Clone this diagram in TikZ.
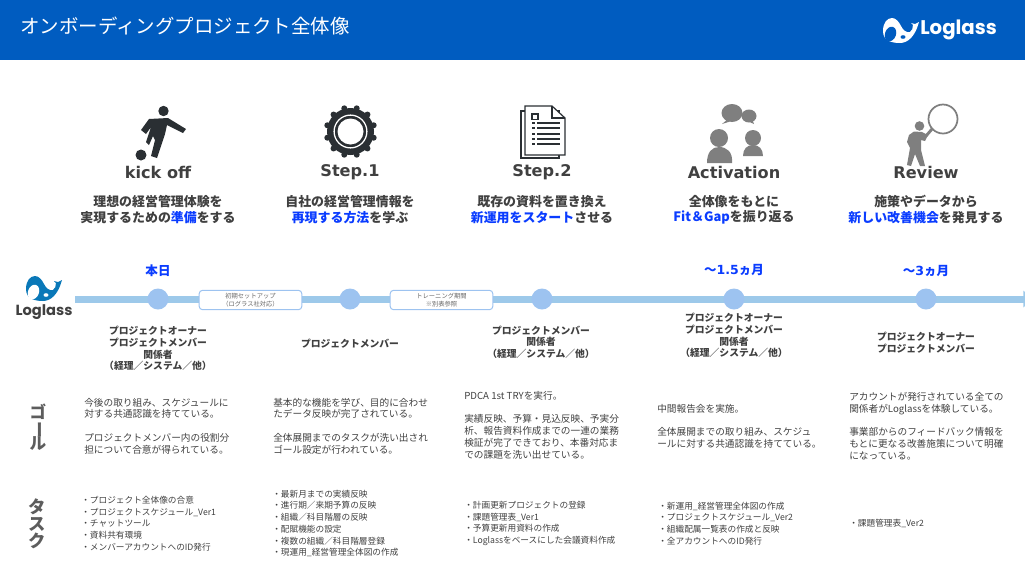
\documentclass[tikz,border=0pt]{standalone}
\usepackage{fontspec}
\setmainfont{Noto Sans CJK JP}
\newfontfamily\dejavu{DejaVu Sans}
\newfontfamily\logofont{Poppins}
\usetikzlibrary{arrows.meta, positioning}
\lineskiplimit=-20pt

\definecolor{barblue}{HTML}{005CC0}
\definecolor{hiblue}{HTML}{0A3CFF}
\definecolor{linesky}{HTML}{9DC9EA}
\definecolor{milesky}{HTML}{9DC3F0}
\definecolor{logoblue}{HTML}{0A78B8}
\definecolor{ink}{HTML}{2A2F33}
\definecolor{textgray}{HTML}{404040}
\definecolor{icongray}{HTML}{7F7F7F}

\newcommand{\bluetxt}[1]{\textcolor{hiblue}{#1}}

\tikzset{
  phasehead/.style={text=textgray, font=\dejavu\bfseries\fontsize{12.1}{14}\selectfont},
  phasesub/.style={text=textgray, align=center, font=\bfseries\fontsize{9.7}{11.5}\selectfont},
  mile/.style={circle, fill=milesky, minimum size=15.75pt, inner sep=0pt},
  spanbox/.style={draw=milesky, line width=0.75pt, fill=white, rounded corners=2.5pt, minimum width=77pt, minimum height=14.5pt,
    inner sep=0pt, align=center, text=textgray!80, font=\fontsize{4.7}{6.4}\selectfont},
  timelabel/.style={text=hiblue, font=\bfseries\fontsize{9.4}{11}\selectfont},
  rolebox/.style={text=textgray, align=center, font=\bfseries\fontsize{7.35}{8.75}\selectfont},
  goaltext/.style={anchor=west, inner sep=0pt, text=textgray, align=left, font=\fontsize{7.25}{8.8}\selectfont},
  tasktext/.style={anchor=west, inner sep=0pt, text=textgray, align=left, font=\fontsize{6.5}{8.8}\selectfont},
  rowlabel/.style={text=textgray!85, align=center, font=\bfseries\fontsize{12.5}{11.8}\selectfont},
  pics/whale/.style 2 args={code={
    \fill[#1] (9,1) .. controls (13,1) and (16,5) .. (18,9) .. controls (20,13) and (23,16) .. (27,15)
      .. controls (29,14) and (30,11) .. (30,8) -- (28,6) -- (32,7) -- (36,5) -- (34,11)
      .. controls (31,19) and (25,26) .. (17,26) .. controls (9,26) and (0,24) .. (0,14)
      .. controls (0,6) and (4,1) .. (9,1) -- cycle;
    \fill[#2, rotate around={-20:(7.5,17)}] (7.5,17) ellipse (5.5 and 7.5);
    \fill[#2] (20,20) ellipse (2.5 and 1.8);
  }}
}

\begin{document}
\begin{tikzpicture}[x=0.75pt,y=-0.75pt,node distance=144pt,on grid]
        \useasboundingbox (0,0) rectangle (1025,572);

        % header
        \fill[barblue] (0,0) rectangle (1025,60);
        \node[text=white, anchor=west, inner sep=0pt, font=\fontsize{14.6}{16}\selectfont] (title) at (20,26) {オンボーディングプロジェクト全体像};
        \pic at (883,17) {whale={white}{barblue}};
        \node[text=white, anchor=west, inner sep=0pt, font=\logofont\bfseries\fontsize{14.8}{16}\selectfont] (logotop) at (920,30) {Loglass};

        % icon: kick off
        \fill[ink] (163.5,111) circle (5.2) (141,155) circle (5.5);
        \fill[ink] (141,130) -- (149,119) -- (168,118) -- (186,129) -- (183,133) -- (167,125) -- (165,134)
            -- (157,158) -- (151,156) -- (155,140) -- (153,136) -- (149,145) -- (146,142) -- (151,127) -- (146,134) -- cycle;

        % icon: step 1
        \fill[ink] (350.5,131.5) circle (23.5);
        \foreach \a in {0,30,...,330}
            \fill[ink] (350.5,131.5) ++(\a+15:24) circle (3);
        \draw[white, line width=0.95pt] (350.5,131.5) circle (16.4);
        \fill[white] (350.5,131.5) circle (13);

        % icon: step 2
        \draw[ink, fill=white, line width=0.9pt] (521,111) rectangle (559,158);
        \draw[ink, fill=white, line width=0.9pt] (525,106) -- (552,106) -- (565,118) -- (565,155) -- (525,155) -- cycle;
        \draw[ink, line width=0.9pt] (552,106) -- (552,118) -- (565,118);
        \draw[ink, line width=0.8pt] (532,114) rectangle (538,119.5);
        \foreach \yy in {123,128,134,139,144} {
            \draw[ink, line width=1pt] (532,\yy) -- (534.5,\yy);
            \draw[ink, line width=1pt] (537,\yy) -- (560,\yy);
        }

        % icon: activation
        \fill[icongray] (732,113) ellipse (10.5 and 9) (722,124) -- (728,119) -- (735,120) -- cycle;
        \fill[icongray] (749,116) ellipse (7.5 and 6.5) (754,124) -- (745,120) -- (752,119) -- cycle;
        \fill[icongray] (719,138) circle (9) (753,138) circle (8);
        \fill[icongray] (707,163) .. controls (707,152) and (712,147) .. (719,147) .. controls (727,147) and (733,152) .. (732,163) -- cycle;
        \fill[icongray] (743,156) .. controls (743,149) and (747,145) .. (753,145) .. controls (759,145) and (763,149) .. (763,156) -- cycle;

        % icon: review
        \draw[icongray, fill=white, line width=1.3pt] (943,119) circle (14.5);
        \draw[icongray, line width=2.2pt] (932,129) -- (926,136);
        \fill[icongray] (919.5,126) circle (4.8);
        \fill[icongray] (909,135) -- (914,131.5) -- (922,132) -- (928,135) -- (925,141) -- (921,140) -- (921,150) -- (925,166)
            -- (920,166) -- (915,154) -- (911,166) -- (907,165) -- (910,148) -- (907,142) -- cycle;

        % phase titles
        \node[phasehead]    (head_1)                        at (158,172)   {kick off};
        \node[phasehead]    (head_2)    [right of=head_1]                  {Step.1};
        \node[phasehead]    (head_3)    [right of=head_2]                  {Step.2};
        \node[phasehead]    (head_4)    [right of=head_3]                  {Activation};
        \node[phasehead]    (head_5)    [right of=head_4]                  {Review};

        \node[phasesub]     (sub_1)                         at (158,209.5) {理想の経営管理体験を\\実現するための\bluetxt{準備}をする};
        \node[phasesub]     (sub_2)     [right of=sub_1]                   {自社の経営管理情報を\\\bluetxt{再現する方法}を学ぶ};
        \node[phasesub]     (sub_3)     [right of=sub_2]                   {既存の資料を置き換え\\\bluetxt{新運用をスタート}させる};
        \node[phasesub]     (sub_4)     [right of=sub_3]                   {全体像をもとに\\\bluetxt{Fit＆Gap}を振り返る};
        \node[phasesub]     (sub_5)     [right of=sub_4]                   {施策やデータから\\\bluetxt{新しい改善機会}を発見する};

        % timeline
        \coordinate (line_start) at (75,299);
        \coordinate (line_end)   at (1034,299);
        \draw[linesky, line width=5.25pt, -{Triangle[length=8pt,width=12pt]}] (line_start) -- (line_end);

        \node[mile]         (mile_1)                        at (158,299)   {};
        \node[mile]         (mile_2)    [right of=mile_1]                  {};
        \node[mile]         (mile_3)    [right of=mile_2]                  {};
        \node[mile]         (mile_4)    [right of=mile_3]                  {};
        \node[mile]         (mile_5)    [right of=mile_4]                  {};

        \node[spanbox]      (setup)                         at (250.5,300) {初期セットアップ\\（ログラス社対応）};
        \node[spanbox]      (training)                      at (441.5,300) {トレーニング期間\\※別表参照};

        \node[timelabel]    (time_1)                        at (158,271)   {本日};
        \node[timelabel]    (time_4)                        at (734,270)   {～{\dejavu 1.5}ヵ月};
        \node[timelabel]    (time_5)                        at (926,271)   {～{\dejavu 3}ヵ月};

        % left logo
        \pic at (26,275) {whale={logoblue}{white}};
        \node[text=textgray, inner sep=0pt, font=\logofont\bfseries\fontsize{11}{13}\selectfont] (logoleft) at (44,312) {Loglass};

        % roles
        \node[rolebox]      (role_1)                        at (158,348.5) {プロジェクトオーナー\\プロジェクトメンバー\\関係者\\（経理／システム／他）};
        \node[rolebox]      (role_2)                        at (350,344)   {プロジェクトメンバー};
        \node[rolebox]      (role_3)                        at (541,342)   {プロジェクトメンバー\\関係者\\（経理／システム／他）};
        \node[rolebox]      (role_4)                        at (734,335.5) {プロジェクトオーナー\\プロジェクトメンバー\\関係者\\（経理／システム／他）};
        \node[rolebox]      (role_5)                        at (926,342.5) {プロジェクトオーナー\\プロジェクトメンバー};

        % row labels
        \node[rowlabel]     (row_goal)                      at (38,427)    {ゴ\\\rotatebox[origin=c]{-90}{ー}\\ル};
        \node[rowlabel, font=\bfseries\fontsize{13}{12.8}\selectfont] (row_task) at (37,524) {タ\\ス\\ク};

        % goals
        \node[goaltext]     (goal_1)    at (84,426)  {今後の取り組み、スケジュールに\\対する共通認識を持てている。\\[8.8pt]プロジェクトメンバー内の役割分\\担について合意が得られている。};
        \node[goaltext]     (goal_2)    at (273,426) {基本的な機能を学び、目的に合わせ\\たデータ反映が完了されている。\\[8.8pt]全体展開までのタスクが洗い出され\\ゴール設定が行われている。};
        \node[goaltext]     (goal_3)    at (464,425) {PDCA 1st TRYを実行。\\[8.8pt]実績反映、予算・見込反映、予実分\\析、報告資料作成までの一連の業務\\検証が完了できており、本番対応ま\\での課題を洗い出せている。};
        \node[goaltext]     (goal_4)    at (657,426) {中間報告会を実施。\\[8.8pt]全体展開までの取り組み、スケジュ\\ールに対する共通認識を持てている。};
        \node[goaltext]     (goal_5)    at (849,426) {アカウントが発行されている全ての\\関係者がLoglassを体験している。\\[8.8pt]事業部からのフィードバック情報を\\もとに更なる改善施策について明確\\になっている。};

        % tasks
        \node[tasktext]     (task_1)    at (81,523.5)  {・プロジェクト全体像の合意\\・プロジェクトスケジュール\_Ver1\\・チャットツール\\・資料共有環境\\・メンバーアカウントへのID発行};
        \node[tasktext]     (task_2)    at (272,523.5) {・最新月までの実績反映\\・進行期／来期予算の反映\\・組織／科目階層の反映\\・配賦機能の設定\\・複数の組織／科目階層登録\\・現運用\_経営管理全体図の作成};
        \node[tasktext]     (task_3)    at (464,523.5) {・計画更新プロジェクトの登録\\・課題管理表\_Ver1\\・予算更新用資料の作成\\・Loglassをベースにした会議資料作成};
        \node[tasktext]     (task_4)    at (658,523.5) {・新運用\_経営管理全体図の作成\\・プロジェクトスケジュール\_Ver2\\・組織配属一覧表の作成と反映\\・全アカウントへのID発行};
        \node[tasktext]     (task_5)    at (849,523.5) {・課題管理表\_Ver2};
    \end{tikzpicture}
\end{document}
